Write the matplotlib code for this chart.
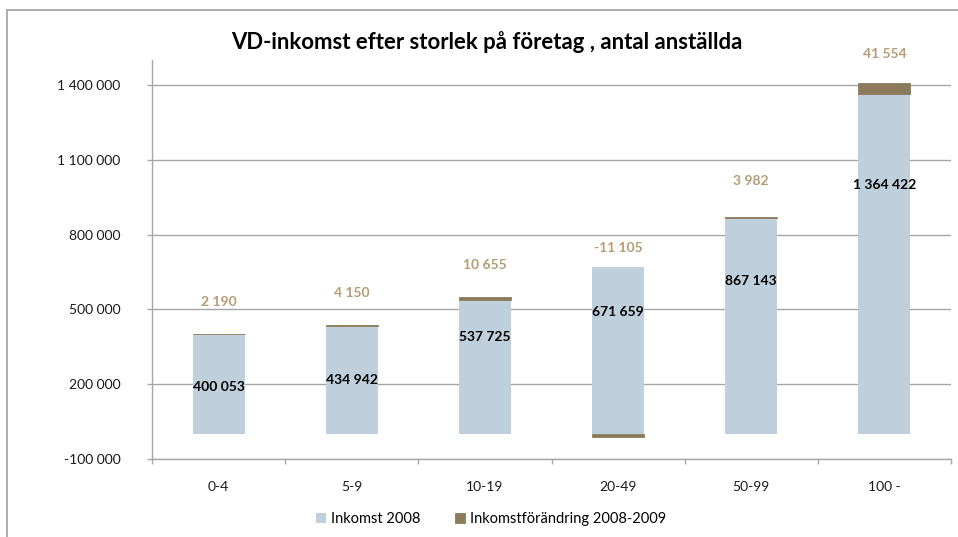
import matplotlib.pyplot as plt
from matplotlib.patches import Rectangle

plt.rcParams['font.family'] = ['Lato', 'DejaVu Sans']

categories = ["0-4", "5-9", "10-19", "20-49", "50-99", "100 -"]
income_2008 = [400053, 434942, 537725, 671659, 867143, 1364422]
change_2008_2009 = [2190, 4150, 10655, -11105, 3982, 41554]

# label placement (layout only)
income_label_y = [190000, 217000, 389000, 491000, 614000, 999000]
change_label_offset_px = [32, 32, 32, 19, 36, 29]

blue = "#BFD0DC"
brown = "#8C7B5B"
tan = "#B49C74"
grid_gray = "#A6A6A6"


def fmt(v):
    return f"{v:,}".replace(",", " ")


fig = plt.figure(figsize=(9.58, 5.37), dpi=100)
ax = fig.add_axes([152 / 958, 1 - 459 / 537, (951 - 152) / 958, (459 - 60) / 537])

x = list(range(len(categories)))
width = 0.39
ax.bar(x, income_2008, width, color=blue, label="Inkomst 2008", zorder=2)
bottoms = [inc if chg >= 0 else 0 for inc, chg in zip(income_2008, change_2008_2009)]
ax.bar(x, change_2008_2009, width, bottom=bottoms, color=brown,
       edgecolor=brown, linewidth=0.6,
       label="Inkomstförändring 2008-2009", zorder=2)

for i, (inc, chg) in enumerate(zip(income_2008, change_2008_2009)):
    ax.text(i, income_label_y[i], fmt(inc), ha="center", va="center",
            fontsize=10, fontweight="bold", color="black", zorder=3)
    top = inc + max(chg, 0)
    ax.annotate(fmt(chg), (i, top), xytext=(0, change_label_offset_px[i] * 0.72),
                textcoords="offset points", ha="center", va="center",
                fontsize=10, fontweight="bold", color=tan, zorder=3)

ax.set_xlim(-0.5, len(categories) - 0.5)
ax.set_ylim(-100000, 1500000)
yticks = [-100000 + 300000 * k for k in range(6)]
ax.set_yticks(yticks)
ax.set_yticklabels([fmt(v) for v in yticks], fontsize=10, color="#1a1a1a")
ax.yaxis.grid(True, color=grid_gray, linewidth=1.0, zorder=0)
ax.set_axisbelow(True)

ax.set_xticks([k - 0.5 for k in range(len(categories) + 1)])
ax.set_xticklabels([])
ax.set_xticks(x, minor=True)
ax.set_xticklabels(categories, minor=True, fontsize=10, color="#1a1a1a")
ax.tick_params(axis="x", which="major", length=3.5, color=grid_gray, width=1)
ax.tick_params(axis="x", which="minor", length=0, pad=16)
ax.tick_params(axis="y", length=3.6, color=grid_gray, width=1, pad=19)

for side in ["top", "right"]:
    ax.spines[side].set_visible(False)
for side in ["left", "bottom"]:
    ax.spines[side].set_color(grid_gray)
    ax.spines[side].set_linewidth(1.0)

fig.text(487 / 958, 1 - 42 / 537, "VD-inkomst efter storlek på företag , antal anställda",
         ha="center", va="center", fontsize=15.9, fontweight="bold", color="black")

fig.legend(loc="center", bbox_to_anchor=(491 / 958, 1 - 519 / 537), ncol=2,
           frameon=False, fontsize=10.5, handlelength=0.7, handleheight=0.7,
           handletextpad=0.3, columnspacing=2.4)

# outer chart frame (right and bottom edges fall outside the picture)
fig.patches.append(Rectangle((7 / 958, -0.1), 1.2, 1 - 10 / 537 + 0.1,
                             transform=fig.transFigure, fill=False,
                             edgecolor="#A0A0A0", linewidth=1.2))

fig.savefig("out.png", dpi=100)
